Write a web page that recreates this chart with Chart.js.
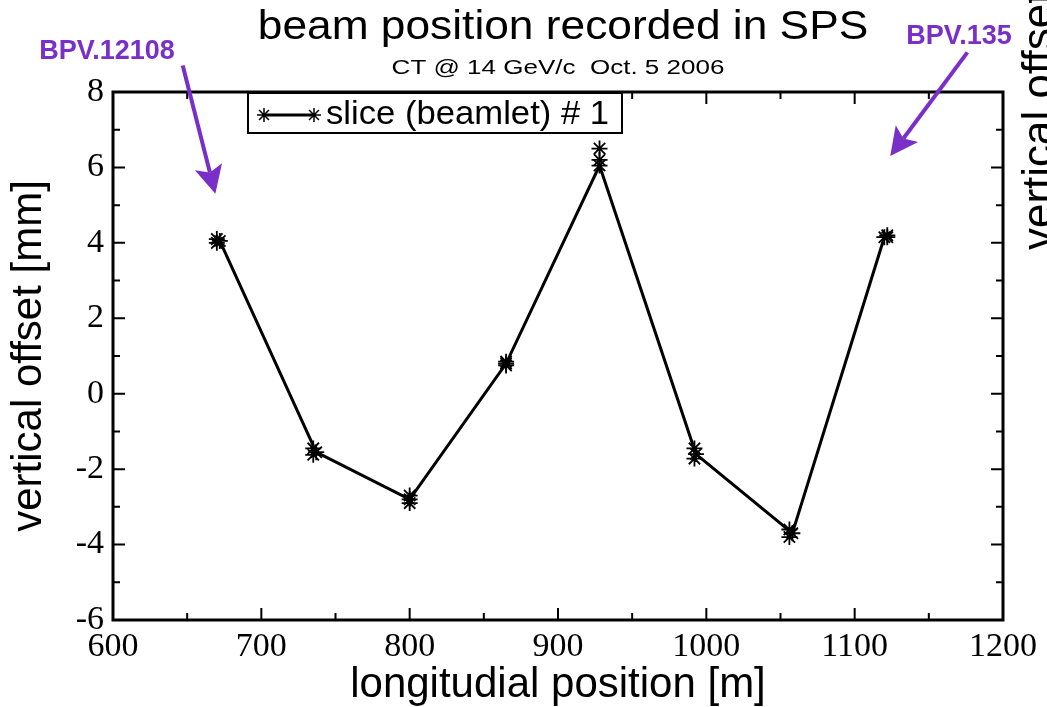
<!DOCTYPE html>
<html>
<head>
<meta charset="utf-8">
<script src="https://cdn.jsdelivr.net/npm/chart.js@4"></script>
<style>
  html, body { margin: 0; padding: 0; background: #fff; }
  #wrap { width: 1047px; height: 707px; }
</style>
</head>
<body>
<div id="wrap"><canvas id="beamChart" width="1047" height="707"></canvas></div>
<script>
// BPM positions along the line [m] and the mean vertical offset [mm]
const positions = [672, 737, 800, 865, 928, 993, 1058, 1120];
const offsets = [4.05, -1.55, -2.8, 0.8, 6.05, -1.6, -3.7, 4.15];
// the other recordings of the same slice, drawn as loose stars
const extraPositions = [670, 735, 800, 865, 928, 992, 1056, 1122];
const extraHigh = [4.1, -1.45, -2.7, 0.85, 6.5, -1.45, -3.6, 4.2];
const extraLow = [4.0, -1.62, -2.9, 0.75, 6.2, -1.72, -3.8, 4.15];

const xTicks = [600, 700, 800, 900, 1000, 1100, 1200];
const yTicks = [-6, -4, -2, 0, 2, 4, 6, 8];

const titleText = 'beam position recorded in SPS';
const subtitleText = 'CT @ 14 GeV/c  Oct. 5 2006';
const seriesLabel = 'slice (beamlet) # 1';
// arrow labels: text, label anchor, arrow tail and tip (data units)
const markers = [
    { text: 'BPV.12108', tx: 107, ty: 52, from: [647, 8.7], to: [669, 5.3] },
    { text: 'BPV.135', tx: 959, ty: 37, from: [1176, 9.05], to: [1124, 6.3] }
];

const PURPLE = '#7a2fc8';
const SANS = '"Liberation Sans", Arial, sans-serif';
const SERIF = '"Liberation Serif", "Times New Roman", serif';

const mainPoints = positions.map((x, i) => ({ x: x, y: offsets[i] }));
const extraPoints = extraPositions.map((x, i) => ({ x: x, y: extraHigh[i] }))
    .concat(extraPositions.map((x, i) => ({ x: x, y: extraLow[i] })));

// text stretched sideways, the reference lettering is wider than Liberation
function wideText(ctx, text, x, y, sx) {
    ctx.save();
    ctx.translate(x, y);
    ctx.scale(sx, 1);
    ctx.fillText(text, 0, 0);
    ctx.restore();
}

// ticks on all four sides pointing inward, plus the heavy frame
const frameTicks = {
    id: 'frameTicks',
    afterDatasetsDraw(chart) {
        const { ctx, chartArea: a, scales } = chart;
        ctx.save();
        ctx.strokeStyle = '#000';
        ctx.lineWidth = 2;
        ctx.beginPath();
        for (let v = 600; v <= 1200; v += 50) {
            const px = scales.x.getPixelForValue(v);
            const len = v % 100 === 0 ? 12 : 7;
            ctx.moveTo(px, a.bottom); ctx.lineTo(px, a.bottom - len);
            ctx.moveTo(px, a.top); ctx.lineTo(px, a.top + len);
        }
        for (let v = -6; v <= 8; v += 1) {
            const py = scales.y.getPixelForValue(v);
            const len = v % 2 === 0 ? 12 : 7;
            ctx.moveTo(a.left, py); ctx.lineTo(a.left + len, py);
            ctx.moveTo(a.right, py); ctx.lineTo(a.right - len, py);
        }
        ctx.stroke();
        ctx.lineWidth = 3;
        ctx.strokeRect(a.left, a.top, a.right - a.left, a.bottom - a.top);
        ctx.restore();
    }
};

// titles, legend box, purple arrows, and the clipped label on the right edge
const decorations = {
    id: 'decorations',
    afterDraw(chart) {
        const { ctx, scales } = chart;
        ctx.save();
        ctx.fillStyle = '#000';
        ctx.textAlign = 'center';
        ctx.textBaseline = 'middle';
        ctx.font = '41px ' + SANS;
        wideText(ctx, titleText, 563, 28, 1.08);
        ctx.font = '20px ' + SANS;
        wideText(ctx, subtitleText, 558, 68, 1.3);

        // legend
        const lx = 248, ly = 93, lw = 374, lh = 40;
        ctx.fillStyle = '#fff';
        ctx.fillRect(lx, ly, lw, lh);
        ctx.lineWidth = 2;
        ctx.strokeStyle = '#000';
        ctx.strokeRect(lx, ly, lw, lh);
        const my = ly + lh / 2 + 2;
        ctx.lineWidth = 3;
        ctx.beginPath();
        ctx.moveTo(264, my); ctx.lineTo(314, my);
        ctx.stroke();
        [264, 314].forEach(sx => {
            ctx.lineWidth = 1.5;
            ctx.beginPath();
            for (let k = 0; k < 4; k++) {
                const ang = k * Math.PI / 4;
                ctx.moveTo(sx - 7 * Math.cos(ang), my - 7 * Math.sin(ang));
                ctx.lineTo(sx + 7 * Math.cos(ang), my + 7 * Math.sin(ang));
            }
            ctx.stroke();
        });
        ctx.fillStyle = '#000';
        ctx.textAlign = 'left';
        ctx.font = '33px ' + SANS;
        wideText(ctx, seriesLabel, 326, my, 1.05);

        // purple markers
        markers.forEach(m => {
            ctx.fillStyle = PURPLE;
            ctx.strokeStyle = PURPLE;
            ctx.font = 'bold 27px ' + SANS;
            ctx.textAlign = 'center';
            ctx.fillText(m.text, m.tx, m.ty);
            const x0 = scales.x.getPixelForValue(m.from[0]);
            const y0 = scales.y.getPixelForValue(m.from[1]);
            const x1 = scales.x.getPixelForValue(m.to[0]);
            const y1 = scales.y.getPixelForValue(m.to[1]);
            const ang = Math.atan2(y1 - y0, x1 - x0);
            const head = 28, half = 14;
            const bx = x1 - head * Math.cos(ang), by = y1 - head * Math.sin(ang);
            ctx.lineWidth = 4;
            ctx.beginPath();
            ctx.moveTo(x0, y0); ctx.lineTo(bx + 6 * Math.cos(ang), by + 6 * Math.sin(ang));
            ctx.stroke();
            ctx.beginPath();
            ctx.moveTo(x1, y1);
            ctx.lineTo(bx + half * Math.sin(ang), by - half * Math.cos(ang));
            ctx.lineTo(bx + 6 * Math.cos(ang), by + 6 * Math.sin(ang));
            ctx.lineTo(bx - half * Math.sin(ang), by + half * Math.cos(ang));
            ctx.closePath();
            ctx.fill();
        });

        // neighbouring panel's axis title, cut by the right edge
        ctx.fillStyle = '#000';
        ctx.translate(1053, 250);
        ctx.rotate(-Math.PI / 2);
        ctx.textAlign = 'left';
        ctx.textBaseline = 'alphabetic';
        ctx.font = '44px ' + SANS;
        ctx.fillText('vertical offset [mm]', 0, 0);
        ctx.restore();
    }
};

new Chart(document.getElementById('beamChart'), {
    type: 'scatter',
    data: {
        datasets: [{
            label: seriesLabel,
            data: mainPoints,
            showLine: true,
            borderColor: '#000',
            backgroundColor: '#000',
            borderWidth: 3,
            tension: 0,
            pointStyle: 'star',
            pointRadius: 8,
            pointBorderWidth: 1.8,
            pointBorderColor: '#000',
            order: 1
        }, {
            label: 'other recordings',
            data: extraPoints,
            showLine: false,
            pointStyle: 'star',
            pointRadius: 8,
            pointBorderWidth: 1.8,
            pointBorderColor: '#000',
            backgroundColor: '#000',
            order: 2
        }]
    },
    options: {
        responsive: false,
        animation: false,
        layout: { padding: { top: 92, right: 44, left: 0, bottom: 0 } },
        plugins: {
            legend: { display: false },
            title: { display: false },
            tooltip: { enabled: false }
        },
        scales: {
            x: {
                type: 'linear',
                min: 600,
                max: 1200,
                afterBuildTicks: s => { s.ticks = xTicks.map(v => ({ value: v })); },
                afterFit: s => { s.height = 87; },
                grid: { display: false, drawTicks: false },
                border: { display: false },
                ticks: {
                    color: '#000',
                    padding: 7,
                    font: { family: SERIF, size: 34 },
                    maxRotation: 0,
                    callback: v => String(v)
                },
                title: {
                    display: true,
                    text: 'longitudial position [m]',
                    color: '#000',
                    font: { family: SANS, size: 42 },
                    padding: { top: 0, bottom: -4 }
                }
            },
            y: {
                type: 'linear',
                min: -6,
                max: 8,
                afterBuildTicks: s => { s.ticks = yTicks.map(v => ({ value: v })); },
                afterFit: s => { s.width = 113; },
                grid: { display: false, drawTicks: false },
                border: { display: false },
                ticks: {
                    color: '#000',
                    padding: 9,
                    font: { family: SERIF, size: 34 },
                    callback: v => String(v)
                },
                title: {
                    display: true,
                    text: 'vertical offset [mm]',
                    color: '#000',
                    font: { family: SANS, size: 42 },
                    padding: { top: 4, bottom: 0 }
                }
            }
        }
    },
    plugins: [frameTicks, decorations]
});
</script>
</body>
</html>
